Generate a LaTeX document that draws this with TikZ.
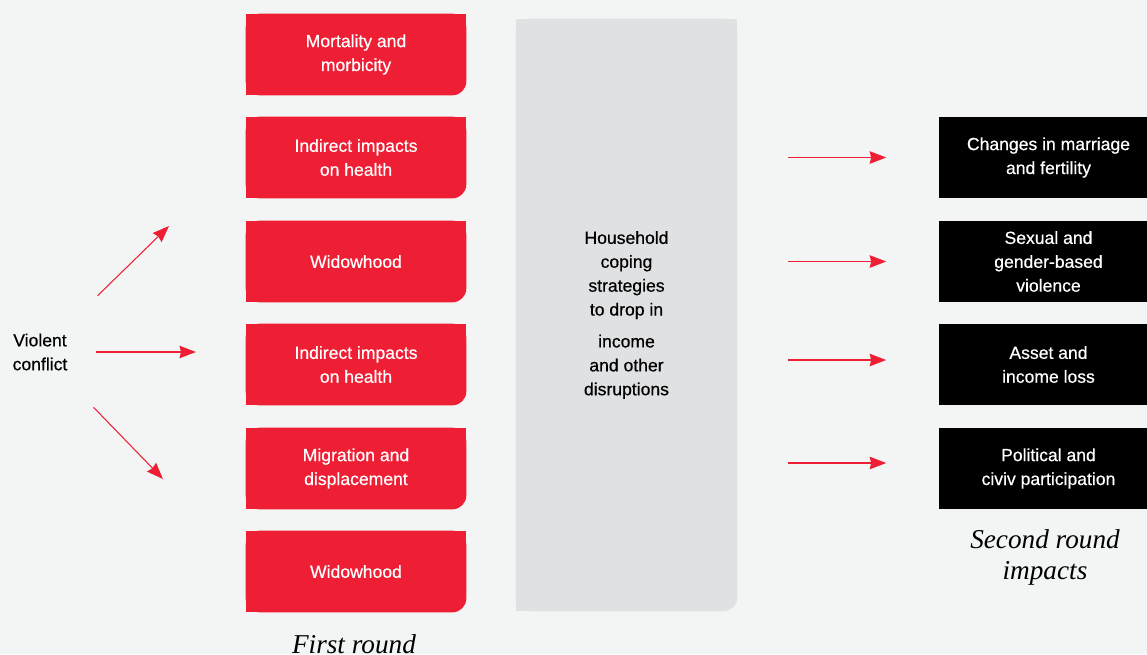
\documentclass[tikz,border=0pt]{standalone}
\usepackage{fontspec}
\setmainfont{Liberation Sans}[BoldFont={Liberation Sans}, BoldFeatures={FakeBold=0.5}]
\newfontfamily\kursiv{Liberation Serif}
\usetikzlibrary{arrows.meta,backgrounds}

\definecolor{hgrund}{HTML}{F3F4F4}
\definecolor{rot}{HTML}{EE1F35}
\definecolor{grau}{HTML}{E0E1E3}

\tikzset{
	schrift/.style={font=\bfseries\fontsize{10}{13.6}\selectfont},
	erste/.style={schrift, minimum width=4.4cm, minimum height=1.62cm, inner sep=0pt,
		align=center, text=white},
	zweite/.style={erste, fill=black},
	titel/.style={align=center, font=\kursiv\itshape\fontsize{15.5}{17.6}\selectfont},
	pfeil/.style={draw=rot, line width=0.6pt, -{Stealth[length=0.33cm, width=0.25cm, inset=0.03cm]}}
}

\begin{document}
\begin{tikzpicture}[x=0.02cm, y=-0.02cm]
	\useasboundingbox (0,0) rectangle (1147,654);
	\clip (0,0) rectangle (1147,654);
	% Ausloeser
	\node[schrift, align=center] (vk) at (40,352) {Violent\\conflict};
	\coordinate (z1) at (169,226);
	\coordinate (z2) at (196,352);
	\coordinate (z3) at (163,479);
	% Erste Runde
	\node[erste] (r1) at (356,54.5) {Mortality and\\morbicity};
	\node[erste] (r2) at (356,157.5) {Indirect impacts\\on health};
	\node[erste] (r3) at (356,261.5) {Widowhood};
	\node[erste] (r4) at (356,364.5) {Indirect impacts\\on health};
	\node[erste] (r5) at (356,468.5) {Migration and\\displacement};
	\node[erste] (r6) at (356,571.5) {Widowhood};
	\node[titel, anchor=base] (t1) at (354,653) {First round};
	% Bewaeltigung im Haushalt
	\node[schrift, minimum width=4.42cm, minimum height=11.84cm, inner sep=0pt, align=center]
		(haus) at (626.5,315)
		{Household\\coping\\strategies\\to drop in\\[0.16cm]income\\and other\\disruptions};
	% Zweite Runde
	\node[zweite] (s1) at (1048.5,157.5) {Changes in marriage\\and fertility};
	\node[zweite] (s2) at (1048.5,261.5) {Sexual and\\gender-based\\violence};
	\node[zweite] (s3) at (1048.5,364.5) {Asset and\\income loss};
	\node[zweite] (s4) at (1048.5,468.5) {Political and\\civiv participation};
	\node[titel] (t2) at (1045,557) {Second round\\impacts};
	% Pfeile
	\draw[pfeil, shorten <=1.61cm] (vk.center) -- (z1);
	\draw[pfeil, shorten <=1.12cm] (vk.center) -- (z2);
	\draw[pfeil, shorten <=1.54cm] (vk.center) -- (z3);
	\foreach \n/\d in {s1/0,s2/0,s3/0.09,s4/0.11}
		\draw[pfeil, shorten <=1.02cm, shorten >=1.04cm]
			([yshift=\d cm]haus.east |- \n.west) -- ([yshift=\d cm]\n.west);
	% Flaechen, Ecke unten rechts rund
	\begin{scope}[on background layer]
		\fill[hgrund] (0,0) rectangle (1147,654);
		\foreach \n/\f in {r1/rot,r2/rot,r3/rot,r4/rot,r5/rot,r6/rot,haus/grau} {
			\fill[\f, rounded corners=0.28cm] (\n.north west) rectangle (\n.south east);
			\fill[\f] (\n.north west) rectangle ([xshift=-0.3cm]\n.south east);
			\fill[\f] (\n.north west) rectangle ([yshift=0.3cm]\n.south east);
		}
	\end{scope}
\end{tikzpicture}
\end{document}
